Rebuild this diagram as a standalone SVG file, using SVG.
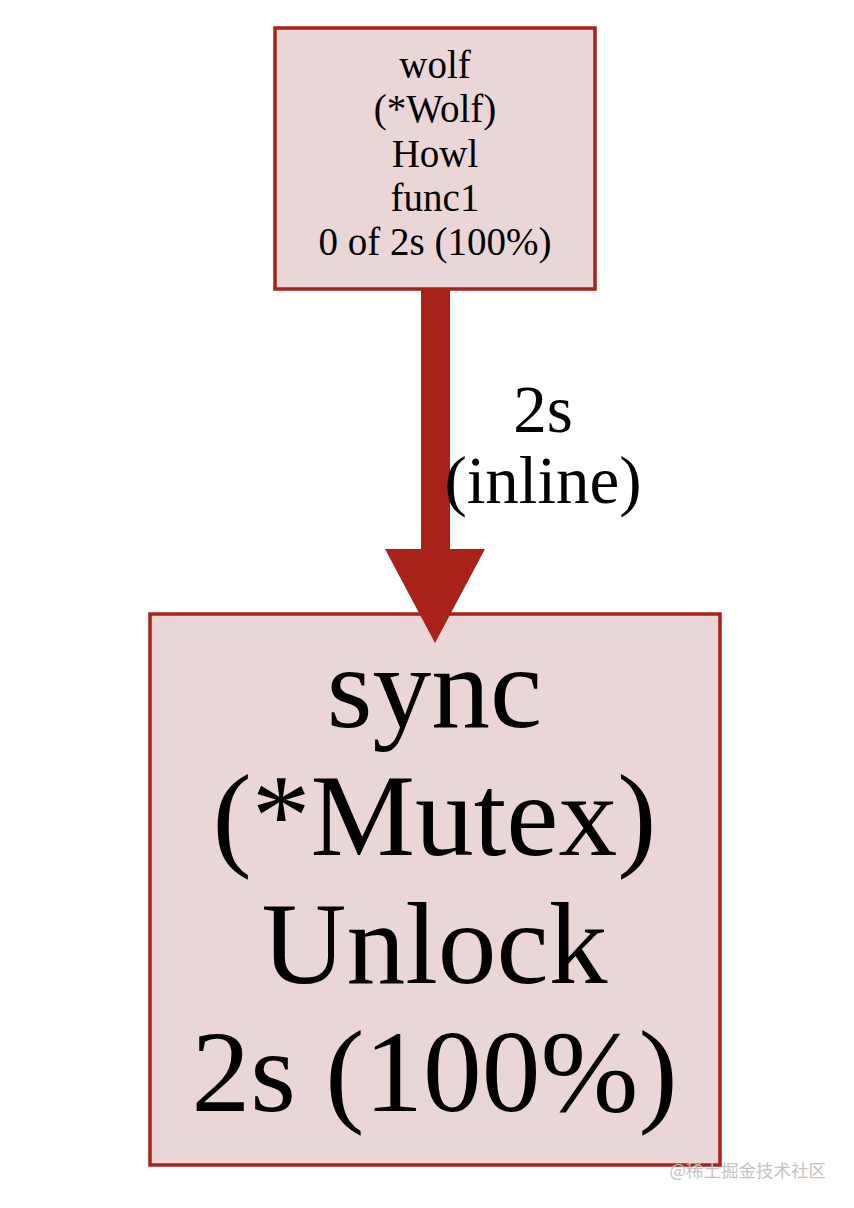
<svg xmlns="http://www.w3.org/2000/svg" width="854" height="1208" viewBox="0 0 854 1208">
<style>
.node rect { fill: #ead6d7; stroke: #a82219; stroke-width: 3.5; }
.lbl { font-family: "Liberation Serif", "Times New Roman", serif; fill: #000; text-anchor: middle; }
.edge { fill: #a82219; stroke: none; }
.wm { font-family: "Noto Sans CJK SC", "Liberation Sans", sans-serif; fill: #c4c4c4; font-size: 17.5px; text-anchor: end; }
</style>
<rect width="854" height="1208" fill="#ffffff"/>
<g id="node-wolf" class="node">
<rect x="275" y="28" width="320" height="261"/>
<text class="lbl" font-size="39" x="435" y="77.5">wolf</text>
<text class="lbl" font-size="39" x="435" y="122">(*Wolf)</text>
<text class="lbl" font-size="39" x="435" y="166.5">Howl</text>
<text class="lbl" font-size="39" x="435" y="211">func1</text>
<text class="lbl" font-size="39" x="435" y="255.3">0 of 2s (100%)</text>
</g>
<g id="node-sync" class="node">
<rect x="150" y="614" width="570" height="551"/>
<text class="lbl" font-size="117.5" x="434.5" y="727">sync</text>
<text class="lbl" font-size="117.5" x="434.5" y="855">(*Mutex)</text>
<text class="lbl" font-size="117.5" x="434.5" y="983">Unlock</text>
<text class="lbl" font-size="117.5" x="434.5" y="1111">2s (100%)</text>
</g>
<g id="connectors">
<g id="edge-wolf-sync">
<rect class="edge" x="421" y="290" width="29" height="260"/>
<polygon class="edge" points="385,549 485,549 435,643"/>
<text class="lbl" font-size="67" x="543" y="431.5">2s</text>
<text class="lbl" font-size="67" x="543" y="503">(inline)</text>
</g>
</g>
<text class="wm" x="826" y="1177">@稀土掘金技术社区</text>
</svg>
